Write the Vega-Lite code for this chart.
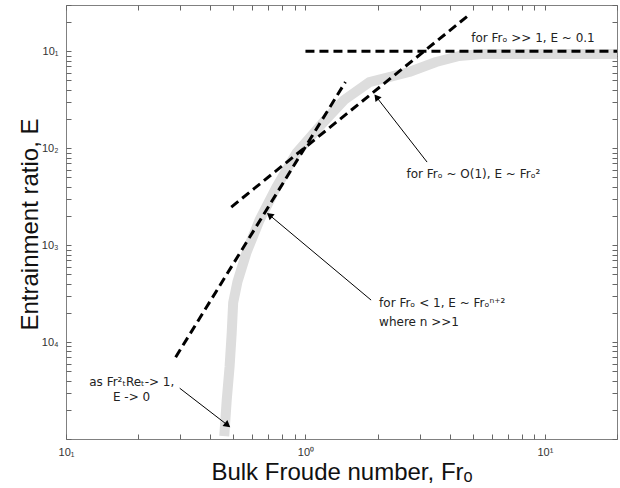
{
  "$schema": "https://vega.github.io/schema/vega-lite/v6.json",
  "width": 551,
  "height": 434,
  "autosize": {"type": "none"},
  "padding": {"left": 66, "top": 5, "right": 3, "bottom": 49},
  "background": "white",
  "config": {
    "view": {"stroke": "#808080", "strokeWidth": 1},
    "axis": {
      "domain": false,
      "grid": false,
      "ticks": true,
      "tickColor": "#666666",
      "tickWidth": 1,
      "tickSize": 5,
      "offset": -5,
      "labelFont": "Liberation Sans",
      "labelFontSize": 11,
      "labelColor": "#333333",
      "titleFont": "Liberation Sans",
      "titleFontSize": 24,
      "titleFontWeight": "normal",
      "titleColor": "#111111",
      "labelOverlap": false,
      "labelFlush": false,
      "labelBound": false
    }
  },
  "datasets": {
    "band": [
      {"x": 0.458, "y": 0.0000107},
      {"x": 0.469, "y": 0.0000252},
      {"x": 0.482, "y": 0.0000551},
      {"x": 0.492, "y": 0.000124},
      {"x": 0.499, "y": 0.000255},
      {"x": 0.52, "y": 0.000420},
      {"x": 0.568, "y": 0.000847},
      {"x": 0.643, "y": 0.00181},
      {"x": 0.757, "y": 0.00397},
      {"x": 0.917, "y": 0.00891},
      {"x": 1.18, "y": 0.0182},
      {"x": 1.45, "y": 0.0314},
      {"x": 1.85, "y": 0.0481},
      {"x": 2.71, "y": 0.0611},
      {"x": 3.51, "y": 0.0774},
      {"x": 4.38, "y": 0.0893},
      {"x": 5.46, "y": 0.0936},
      {"x": 20, "y": 0.0936}
    ],
    "dashes": [
      {"line": "plateau", "x": 1.0, "y": 0.1},
      {"line": "plateau", "x": 20, "y": 0.1},
      {"line": "square", "x": 0.49, "y": 0.00247},
      {"line": "square", "x": 4.8, "y": 0.235},
      {"line": "steep", "x": 0.287, "y": 0.0000698},
      {"line": "steep", "x": 1.468, "y": 0.0481}
    ],
    "arrows": [
      {"id": "a", "x": 1.98, "y": 0.0337, "x2": 3.22, "y2": 0.00719},
      {"id": "b", "x": 0.708, "y": 0.00204, "x2": 1.88, "y2": 0.000271},
      {"id": "c", "x": 0.473, "y": 0.0000139, "x2": 0.2985, "y2": 0.0000334}
    ],
    "labels": [
      {"text": "for Frₒ >> 1, E ~ 0.1", "x": 4.92, "y": 0.137},
      {"text": "for Frₒ ~ O(1), E ~ Frₒ²", "x": 2.64, "y": 0.00541},
      {"text": "for Frₒ < 1, E ~ Frₒⁿ⁺²", "x": 2.03, "y": 0.000252},
      {"text": "where n >>1", "x": 2.03, "y": 0.000161},
      {"text": "as Fr²ₜReₜ-> 1,", "x": 0.125, "y": 0.0000386},
      {"text": "E -> 0", "x": 0.157, "y": 0.000027}
    ]
  },
  "layer": [
    {
      "encoding": {
        "x": {
          "field": "x",
          "type": "quantitative",
          "scale": {"type": "log", "domain": [0.1, 20], "nice": false},
          "axis": {
            "values": [0.1, 0.2, 0.3, 0.4, 0.5, 0.6, 0.7, 0.8, 0.9, 1, 2, 3, 4, 5, 6, 7, 8, 9, 10, 20],
            "labelExpr": "datum.value === 0.1 ? '10₁' : datum.value === 1 ? '10⁰' : datum.value === 10 ? '10¹' : ''",
            "title": "Bulk Froude number, Frₒ",
            "labelPadding": 7,
            "titleX": 275.5,
            "titleY": 45,
            "titleBaseline": "alphabetic"
          }
        },
        "y": {
          "field": "y",
          "type": "quantitative",
          "scale": {"type": "log", "domain": [0.00001, 0.3], "nice": false},
          "axis": {
            "values": [0.00001, 0.00002, 0.00003, 0.00004, 0.00005, 0.00006, 0.00007, 0.00008, 0.00009, 0.0001, 0.0002, 0.0003, 0.0004, 0.0005, 0.0006, 0.0007, 0.0008, 0.0009, 0.001, 0.002, 0.003, 0.004, 0.005, 0.006, 0.007, 0.008, 0.009, 0.01, 0.02, 0.03, 0.04, 0.05, 0.06, 0.07, 0.08, 0.09, 0.1, 0.2, 0.3],
            "labelExpr": "datum.value === 0.1 ? '10₁' : datum.value === 0.01 ? '10₂' : datum.value === 0.001 ? '10₃' : datum.value === 0.0001 ? '10₄' : ''",
            "title": "Entrainment ratio, E",
            "labelPadding": 8,
            "titleX": -34,
            "titleY": 219,
            "titleAngle": -90,
            "titleBaseline": "alphabetic"
          }
        }
      },
      "layer": [
        {
          "data": {"name": "band"},
          "mark": {"type": "line", "color": "#dddddd", "strokeWidth": 10, "strokeCap": "butt", "strokeJoin": "round"}
        },
        {
          "data": {"name": "dashes"},
          "mark": {"type": "line", "color": "black", "strokeWidth": 3, "strokeDash": [9, 5], "strokeCap": "butt"},
          "encoding": {"detail": {"field": "line"}}
        },
        {
          "data": {"name": "arrows"},
          "mark": {"type": "rule", "color": "black", "strokeWidth": 1},
          "encoding": {"x2": {"field": "x2"}, "y2": {"field": "y2"}}
        },
        {
          "data": {"name": "arrows"},
          "transform": [{"filter": "datum.id == 'a'"}],
          "mark": {"type": "point", "shape": "triangle-up", "filled": true, "color": "black", "opacity": 1, "size": 60, "angle": 322}
        },
        {
          "data": {"name": "arrows"},
          "transform": [{"filter": "datum.id == 'b'"}],
          "mark": {"type": "point", "shape": "triangle-up", "filled": true, "color": "black", "opacity": 1, "size": 60, "angle": 310}
        },
        {
          "data": {"name": "arrows"},
          "transform": [{"filter": "datum.id == 'c'"}],
          "mark": {"type": "point", "shape": "triangle-up", "filled": true, "color": "black", "opacity": 1, "size": 60, "angle": 128}
        },
        {
          "data": {"name": "labels"},
          "mark": {"type": "text", "align": "left", "baseline": "middle", "font": "DejaVu Sans", "fontSize": 12, "color": "#222222"},
          "encoding": {"text": {"field": "text"}}
        }
      ]
    },
    {
      "data": {"name": "band"},
      "mark": {"type": "point", "opacity": 0},
      "encoding": {
        "x": {
          "field": "x",
          "type": "quantitative",
          "scale": {"type": "log", "domain": [0.1, 20], "nice": false},
          "axis": {
            "orient": "top",
            "values": [0.1, 0.2, 0.3, 0.4, 0.5, 0.6, 0.7, 0.8, 0.9, 1, 2, 3, 4, 5, 6, 7, 8, 9, 10, 20],
            "labels": false,
            "title": null
          }
        },
        "y": {
          "field": "y",
          "type": "quantitative",
          "scale": {"type": "log", "domain": [0.00001, 0.3], "nice": false},
          "axis": {
            "orient": "right",
            "values": [0.00001, 0.00002, 0.00003, 0.00004, 0.00005, 0.00006, 0.00007, 0.00008, 0.00009, 0.0001, 0.0002, 0.0003, 0.0004, 0.0005, 0.0006, 0.0007, 0.0008, 0.0009, 0.001, 0.002, 0.003, 0.004, 0.005, 0.006, 0.007, 0.008, 0.009, 0.01, 0.02, 0.03, 0.04, 0.05, 0.06, 0.07, 0.08, 0.09, 0.1, 0.2, 0.3],
            "labels": false,
            "title": null
          }
        }
      }
    }
  ],
  "resolve": {"axis": {"x": "independent", "y": "independent"}}
}
